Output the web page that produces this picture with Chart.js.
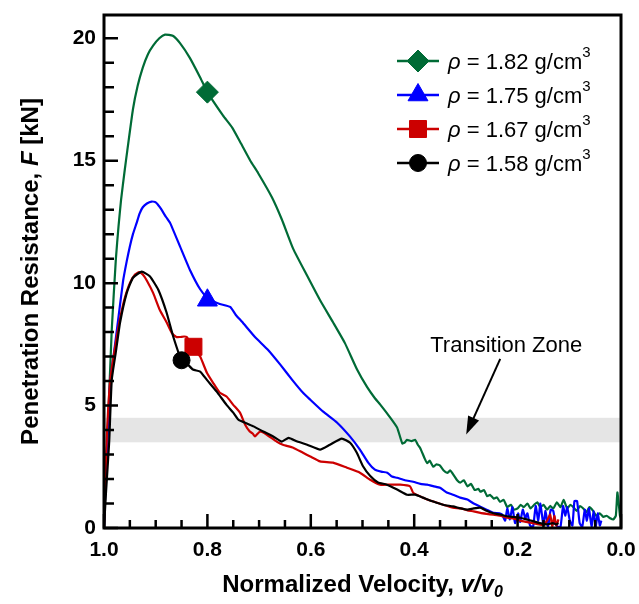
<!DOCTYPE html>
<html>
<head>
<meta charset="utf-8">
<script src="https://cdn.jsdelivr.net/npm/chart.js@4.4.1/dist/chart.umd.min.js"></script>
<style>
  html, body { margin: 0; padding: 0; background: #fff; }
  #wrap { width: 639px; height: 604px; position: relative; }
</style>
</head>
<body>
<div id="wrap"><canvas id="chart"></canvas></div>
<script>
"use strict";

// Data: normalized velocity (x) vs penetration resistance in kN (y)
const greenX = [
  1.000, 0.996, 0.992, 0.985, 0.977, 0.972, 0.967, 0.960, 0.955, 0.944,
  0.935, 0.925, 0.915, 0.905, 0.893, 0.882, 0.867, 0.853, 0.834, 0.814,
  0.800, 0.770, 0.752, 0.735, 0.717,
  0.702, 0.675, 0.656, 0.634, 0.607, 0.582, 0.557, 0.534, 0.510, 0.491,
  0.476, 0.466, 0.446, 0.433, 0.423, 0.418, 0.414, 0.405, 0.398, 0.393,
  0.388, 0.380, 0.375, 0.370, 0.363, 0.357, 0.350, 0.343, 0.336, 0.330,
  0.325, 0.317, 0.311, 0.304, 0.297, 0.290, 0.283, 0.276, 0.272, 0.265,
  0.259, 0.253, 0.246, 0.240, 0.234, 0.227, 0.220, 0.213, 0.207, 0.200,
  0.194, 0.188, 0.181, 0.175, 0.168, 0.162, 0.156, 0.150, 0.143, 0.137,
  0.131, 0.124, 0.117, 0.111, 0.104, 0.098, 0.092, 0.086, 0.079, 0.073,
  0.067, 0.061, 0.054, 0.048, 0.041, 0.034, 0.028, 0.021, 0.015, 0.010,
  0.007, 0.004, 0.002, 0.000
];
const greenY = [
  0.0, 2.4, 4.4, 8.1, 11.0, 12.3, 13.4, 14.6, 15.4, 17.1,
  18.05, 18.8, 19.35, 19.7, 20.0, 20.15, 20.1, 19.8, 19.2, 18.4,
  17.8, 16.85, 16.35, 15.7, 15.0,
  14.5, 13.5, 12.6, 11.4, 10.3, 9.3, 8.4, 7.55, 6.45, 5.75,
  5.3, 5.05, 4.5, 4.1, 3.45, 3.5, 3.6, 3.55, 3.6, 3.4,
  3.25, 2.85, 2.65, 2.75, 2.5, 2.6, 2.55, 2.35, 2.25, 2.35,
  2.2, 1.95, 1.85, 1.95, 1.7, 1.8, 1.55, 1.6, 1.48, 1.55,
  1.3, 1.35, 1.2, 1.25, 1.07, 1.15, 0.85, 0.95, 0.75, 0.8,
  0.95, 0.85, 1.0, 0.8, 0.95, 1.05, 0.85, 0.95, 0.75, 0.9,
  0.8, 1.05, 0.85, 1.15, 0.8, 0.95, 0.85, 0.7, 0.9, 0.8,
  0.65, 0.85, 0.7, 0.5, 0.6, 0.45, 0.5, 0.4, 0.35, 0.5,
  1.45, 0.9, 0.5, 0.4
];

const blueX = [
  1.000, 0.996, 0.992, 0.988, 0.981, 0.975, 0.963, 0.956, 0.950, 0.944,
  0.937, 0.931, 0.925, 0.917, 0.908,
  0.900, 0.892, 0.880, 0.872, 0.853, 0.834, 0.814, 0.800, 0.788, 0.776,
  0.756, 0.745, 0.733, 0.708, 0.683, 0.659, 0.636, 0.615, 0.601, 0.576,
  0.549, 0.524, 0.505, 0.489, 0.476, 0.464, 0.452, 0.443, 0.433, 0.418,
  0.402, 0.388, 0.375, 0.362, 0.350, 0.337, 0.325, 0.311, 0.297, 0.285,
  0.272, 0.260, 0.247, 0.235, 0.230, 0.224, 0.220, 0.215, 0.210, 0.205,
  0.199, 0.195, 0.190, 0.185, 0.181, 0.176, 0.170, 0.165, 0.160, 0.156,
  0.150, 0.146, 0.141, 0.136, 0.131, 0.127, 0.122, 0.117, 0.112, 0.108,
  0.104, 0.099, 0.094, 0.090, 0.085, 0.080, 0.075, 0.070, 0.066, 0.062,
  0.057, 0.053, 0.049, 0.045, 0.041, 0.038
];
const blueY = [
  0.0, 2.4, 4.2, 6.0, 7.1, 8.1, 10.1, 10.9, 11.5, 12.0,
  12.45, 12.85, 13.1, 13.25, 13.33,
  13.3, 13.1, 12.7, 12.45, 11.5, 10.55, 9.75, 9.4, 9.25, 9.15,
  9.03, 8.7, 8.42, 7.8, 7.28, 6.67, 6.05, 5.52, 5.24, 4.75,
  4.3, 3.73, 3.2, 2.67, 2.38, 2.3, 2.26, 2.1, 2.05, 1.95,
  1.89, 1.8, 1.77, 1.7, 1.64, 1.45, 1.36, 1.24, 1.16, 1.0,
  0.87, 0.75, 0.62, 0.6, 0.55, 0.3, 0.8, 0.35, 0.85, 0.2,
  0.6, 0.25, 0.75, 0.4, 0.6, 0.1, 0.05, 0.9, 0.3, 1.0,
  0.1, 0.7, 0.05, 0.75, 0.7, 0.2, 0.05, 0.05, 0.9, 0.5,
  0.85, 0.3, 0.1, 1.1, 1.1, 0.2, 0.05, 0.75, 0.3, 0.8,
  0.05, 0.7, 0.05, 0.6, 0.1, 0.3
];

const redX = [
  1.000, 0.997, 0.994, 0.988, 0.980, 0.973, 0.966, 0.959, 0.950, 0.940,
  0.932, 0.925, 0.917, 0.905, 0.892, 0.879, 0.869, 0.860, 0.853, 0.845,
  0.840, 0.827, 0.814, 0.801, 0.789, 0.776, 0.763, 0.750, 0.737, 0.727,
  0.718, 0.712, 0.708, 0.703, 0.698, 0.685, 0.666, 0.654, 0.634, 0.615,
  0.601, 0.582, 0.557, 0.530, 0.505, 0.485, 0.466, 0.447, 0.427, 0.408,
  0.402, 0.383, 0.363, 0.344, 0.325, 0.310, 0.297, 0.285, 0.272, 0.260,
  0.247, 0.234, 0.220, 0.207, 0.195, 0.183, 0.170, 0.160, 0.150, 0.143,
  0.137, 0.133, 0.129, 0.125, 0.121
];
const redY = [
  0.0, 2.2, 4.0, 6.05, 7.2, 8.1, 8.85, 9.45, 10.0, 10.35,
  10.45, 10.35, 10.1, 9.6, 8.9, 8.4, 7.97, 7.8, 7.8, 7.82,
  7.8, 7.37, 7.0, 6.34, 5.93, 5.52, 5.37, 5.03, 4.71, 4.22,
  3.94, 3.85, 3.74, 3.85, 3.94, 3.81, 3.53, 3.4, 3.28, 3.07,
  2.92, 2.72, 2.67, 2.46, 2.26, 1.97, 1.77, 1.77, 1.77, 1.70,
  1.44, 1.24, 1.08, 0.95, 0.83, 0.8, 0.72, 0.68, 0.62, 0.58,
  0.54, 0.5, 0.42, 0.38, 0.3, 0.25, 0.2, 0.15, 0.12, 0.3,
  0.55, 0.05, 0.5, 0.1, 0.35
];

const blackX = [
  1.000, 0.996, 0.990, 0.985, 0.977, 0.969, 0.956, 0.944, 0.927, 0.911,
  0.895, 0.879, 0.866, 0.850, 0.839, 0.828, 0.814, 0.801, 0.782, 0.763,
  0.750, 0.740, 0.727, 0.711, 0.692, 0.672, 0.656, 0.643, 0.626, 0.607,
  0.582, 0.563, 0.540, 0.524, 0.511, 0.499, 0.485, 0.470, 0.453, 0.433,
  0.414, 0.398, 0.383, 0.363, 0.344, 0.325, 0.310, 0.297, 0.285, 0.272,
  0.260, 0.247, 0.234, 0.220, 0.207, 0.195, 0.183, 0.170, 0.157, 0.143,
  0.132, 0.125, 0.121
];
const blackY = [
  0.0, 1.5, 3.5, 6.05, 7.2, 8.38, 9.6, 10.22, 10.47, 10.27,
  9.73, 8.8, 7.81, 6.85, 6.7, 6.47, 6.39, 6.05, 5.57, 5.03,
  4.71, 4.42, 4.3, 4.15, 3.94, 3.73, 3.53, 3.68, 3.53, 3.4,
  3.2, 3.4, 3.65, 3.48, 3.07, 2.52, 2.12, 1.86, 1.77, 1.57,
  1.36, 1.36, 1.24, 1.08, 0.95, 0.88, 0.8, 0.75, 0.8, 0.83,
  0.7, 0.6, 0.55, 0.48, 0.45, 0.42, 0.35, 0.28, 0.2, 0.15,
  0.2, 0.15, 0.2
];

// one marker per curve
const markerX = [0.800, 0.800, 0.827, 0.850];
const markerY = [17.8, 9.3, 7.4, 6.85];

const densities = ["1.82", "1.75", "1.67", "1.58"];
const seriesColors = ["#006b36", "#0000ff", "#cc0000", "#000000"];
const pointStyles = ["rectRot", "triangle", "rect", "circle"];
const pointSizes = [11, 11.5, 12, 8.5];

const bandRange = [3.5, 4.5];
const xTicks = [0, 0.2, 0.4, 0.6, 0.8, 1.0];
const yTicks = [0, 5, 10, 15, 20];

const FONT = "'Liberation Sans', Arial, Helvetica, sans-serif";

function toPoints(xs, ys) {
    return xs.map((x, i) => ({ x: x, y: ys[i] }));
}

// draws several text pieces (different fonts / offsets) in a row
function drawRuns(ctx, runs, x, y, centered) {
    let total = 0;
    runs.forEach(r => {
        ctx.font = r.font;
        r.w = ctx.measureText(r.text).width;
        total += r.w;
    });
    let cx = centered ? x - total / 2 : x;
    runs.forEach(r => {
        ctx.font = r.font;
        ctx.fillText(r.text, cx, y + (r.dy || 0));
        cx += r.w;
    });
}

const bandPlugin = {
    id: "band",
    beforeDatasetsDraw(chart) {
        const { ctx, chartArea: a, scales: { y } } = chart;
        const top = y.getPixelForValue(bandRange[1]);
        const bot = y.getPixelForValue(bandRange[0]);
        ctx.save();
        ctx.fillStyle = "#e5e5e5";
        ctx.fillRect(a.left, top, a.right - a.left, bot - top);
        ctx.restore();
    }
};

const framePlugin = {
    id: "frame",
    afterDatasetsDraw(chart) {
        const { ctx, chartArea: a, scales: { x, y } } = chart;
        ctx.save();
        ctx.strokeStyle = "#000";
        ctx.lineWidth = 2.5;
        ctx.beginPath();
        // x ticks every 0.05, long ones every 0.2
        for (let i = 0; i <= 20; i++) {
            const px = x.getPixelForValue(i * 0.05);
            const len = i % 4 === 0 ? 14 : 8;
            ctx.moveTo(px, a.bottom);
            ctx.lineTo(px, a.bottom - len);
        }
        // y ticks every 1, long ones every 5
        for (let i = 0; i <= 20; i++) {
            const py = y.getPixelForValue(i);
            const len = i % 5 === 0 ? 14 : 10;
            ctx.moveTo(a.left, py);
            ctx.lineTo(a.left + len, py);
        }
        ctx.stroke();
        ctx.lineWidth = 3;
        ctx.strokeRect(a.left, a.top, a.right - a.left, a.bottom - a.top);
        ctx.restore();
    }
};

const annotationPlugin = {
    id: "notes",
    afterDraw(chart) {
        const { ctx, chartArea: a, scales: { x, y } } = chart;
        ctx.save();
        ctx.fillStyle = "#000";
        ctx.textAlign = "left";
        ctx.textBaseline = "alphabetic";

        // Transition zone label + arrow
        ctx.font = "22px " + FONT;
        ctx.fillText("Transition Zone", x.getPixelForValue(0.369), y.getPixelForValue(7.17));
        const x0 = x.getPixelForValue(0.2336), y0 = y.getPixelForValue(6.91);
        const x1 = x.getPixelForValue(0.2994), y1 = y.getPixelForValue(3.82);
        const ang = Math.atan2(y1 - y0, x1 - x0);
        const head = 18;
        ctx.strokeStyle = "#000";
        ctx.lineWidth = 2;
        ctx.beginPath();
        ctx.moveTo(x0, y0);
        ctx.lineTo(x1 - Math.cos(ang) * head * 0.8, y1 - Math.sin(ang) * head * 0.8);
        ctx.stroke();
        ctx.beginPath();
        ctx.moveTo(x1, y1);
        ctx.lineTo(x1 - Math.cos(ang) * head + Math.sin(ang) * 6, y1 - Math.sin(ang) * head - Math.cos(ang) * 6);
        ctx.lineTo(x1 - Math.cos(ang) * head - Math.sin(ang) * 6, y1 - Math.sin(ang) * head + Math.cos(ang) * 6);
        ctx.closePath();
        ctx.fill();

        // legend
        for (let i = 0; i < densities.length; i++) {
            const cy = 61 + i * 34;
            ctx.strokeStyle = seriesColors[i];
            ctx.fillStyle = seriesColors[i];
            ctx.lineWidth = 2.5;
            ctx.beginPath();
            ctx.moveTo(397, cy);
            ctx.lineTo(439, cy);
            ctx.stroke();
            ctx.lineWidth = 1;
            Chart.helpers.drawPoint(ctx, {
                pointStyle: pointStyles[i], radius: pointSizes[i], rotation: 0, borderWidth: 1
            }, 418, cy);
            ctx.fillStyle = "#000";
            drawRuns(ctx, [
                { text: "\u03C1", font: "italic 22px " + FONT },
                { text: " = " + densities[i] + " g/cm", font: "22px " + FONT },
                { text: "3", font: "15px " + FONT, dy: -12 }
            ], 448, cy + 7.5, false);
        }

        // axis titles
        ctx.fillStyle = "#000";
        const midX = (a.left + a.right) / 2;
        drawRuns(ctx, [
            { text: "Normalized Velocity, ", font: "bold 24px " + FONT },
            { text: "v/v", font: "italic bold 24px " + FONT },
            { text: "0", font: "italic bold 16px " + FONT, dy: 5 }
        ], midX, 592, true);

        ctx.translate(38, (a.top + a.bottom) / 2);
        ctx.rotate(-Math.PI / 2);
        drawRuns(ctx, [
            { text: "Penetration Resistance, ", font: "bold 24px " + FONT },
            { text: "F", font: "italic bold 24px " + FONT },
            { text: " [kN]", font: "bold 24px " + FONT }
        ], 0, 0, true);
        ctx.restore();
    }
};

const curveX = [greenX, blueX, redX, blackX];
const curveY = [greenY, blueY, redY, blackY];
const datasets = [];
for (let i = 0; i < 4; i++) {
    datasets.push({
        label: "\u03C1 = " + densities[i] + " g/cm3",
        data: toPoints(curveX[i], curveY[i]),
        borderColor: seriesColors[i],
        borderWidth: 2.2,
        pointRadius: 0,
        tension: 0.15,
        fill: false,
        order: 4 - i
    });
}
datasets.push({
    label: "markers",
    data: toPoints(markerX, markerY),
    showLine: false,
    pointStyle: pointStyles,
    pointRadius: pointSizes,
    pointBackgroundColor: seriesColors,
    pointBorderColor: seriesColors,
    pointBorderWidth: 1,
    clip: false,
    order: 0
});

new Chart(document.getElementById("chart"), {
    type: "line",
    data: { datasets: datasets },
    options: {
        responsive: true,
        maintainAspectRatio: false,
        animation: false,
        layout: { padding: { top: 15, right: 18, left: 0, bottom: 0 } },
        plugins: { legend: { display: false }, tooltip: { enabled: false } },
        scales: {
            x: {
                type: "linear",
                reverse: true,
                min: 0,
                max: 1,
                grid: { display: false, drawTicks: false },
                border: { display: false },
                afterBuildTicks(scale) { scale.ticks = xTicks.map(v => ({ value: v })); },
                ticks: {
                    padding: 10,
                    color: "#000",
                    maxRotation: 0,
                    autoSkip: false,
                    font: { family: FONT, size: 21, weight: "bold" },
                    callback: v => Number(v).toFixed(1)
                },
                afterFit(scale) {
                    scale.height = 76;
                    scale.paddingLeft = 0;
                    scale.paddingRight = 0;
                }
            },
            y: {
                min: 0,
                max: 20.95,
                grid: { display: false, drawTicks: false },
                border: { display: false },
                afterBuildTicks(scale) { scale.ticks = yTicks.map(v => ({ value: v })); },
                ticks: {
                    padding: 8,
                    color: "#000",
                    font: { family: FONT, size: 21, weight: "bold" },
                    callback: v => String(v)
                },
                afterFit(scale) {
                    scale.width = 104;
                    scale.paddingTop = 0;
                    scale.paddingBottom = 0;
                }
            }
        }
    },
    plugins: [bandPlugin, framePlugin, annotationPlugin]
});
</script>
</body>
</html>
